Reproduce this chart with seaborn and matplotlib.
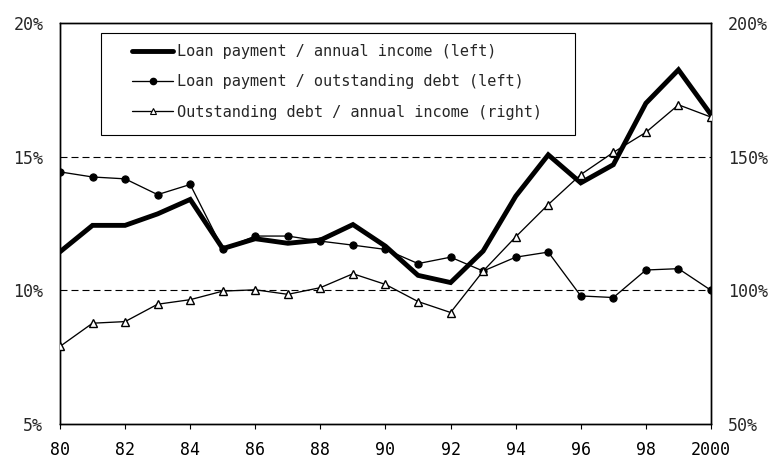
import matplotlib
matplotlib.use("Agg")
import matplotlib.pyplot as plt
import seaborn as sns
import pandas as pd
from matplotlib.lines import Line2D
from matplotlib.patches import Rectangle

years = list(range(1980, 2001))

# Loan payment / annual income (%, left axis)
pay_income = [11.44, 12.43, 12.43, 12.86, 13.40, 11.56, 11.93, 11.76, 11.88, 12.46,
              11.65, 10.56, 10.29, 11.47, 13.52, 15.07, 14.02, 14.70, 17.00, 18.25, 16.57]
# Loan payment / outstanding debt (%, left axis)
pay_debt = [14.43, 14.24, 14.17, 13.58, 13.96, 11.55, 12.03, 12.03, 11.84, 11.69,
            11.53, 11.00, 11.24, 10.72, 11.24, 11.43, 9.79, 9.73, 10.76, 10.81, 10.00]
# Outstanding debt / annual income (%, right axis)
debt_income = [79.0, 87.7, 88.3, 94.8, 96.5, 99.7, 100.2, 98.5, 101.0, 106.2,
               102.2, 95.8, 91.7, 107.2, 120.0, 132.1, 143.3, 151.6, 159.1, 169.4, 164.8]

x_ticks = list(range(1980, 2001, 2))
x_labels = ["80", "82", "84", "86", "88", "90", "92", "94", "96", "98", "2000"]
left_ticks = [5, 10, 15, 20]
right_ticks = [50, 100, 150, 200]

labels = ["Loan payment / annual income (left)",
          "Loan payment / outstanding debt (left)",
          "Outstanding debt / annual income (right)"]

df = pd.DataFrame({"year": years, "pi": pay_income, "pd": pay_debt, "di": debt_income})

sns.set_style("white")
plt.rcParams["font.family"] = ["DejaVu Sans Mono", "DejaVu Sans"]

fig = plt.figure(figsize=(7.72, 4.62), dpi=100)
ax = fig.add_axes([0.0777, 0.0823, 0.8433, 0.8679])
ax2 = ax.twinx()

THIN = 0.95
THICK = 3.5

sns.lineplot(data=df, x="year", y="pd", ax=ax, color="black", linewidth=THIN,
             marker="o", markersize=5.2, markeredgecolor="black", zorder=3)
sns.lineplot(data=df, x="year", y="pi", ax=ax, color="black", linewidth=THICK,
             zorder=4, solid_joinstyle="miter")
sns.lineplot(data=df, x="year", y="di", ax=ax2, color="black", linewidth=THIN,
             marker="^", markersize=6, markerfacecolor="white",
             markeredgecolor="black", markeredgewidth=1.0, zorder=5)

ax.set_xlim(1980, 2000)
ax.set_ylim(5, 20)
ax2.set_ylim(50, 200)

for v in (10, 15):
    ax.axhline(v, color="black", linewidth=0.8, linestyle=(0, (6.3, 3.6)), zorder=1)

ax.set_xticks(x_ticks)
ax.set_xticklabels(x_labels)
ax.set_yticks(left_ticks)
ax.set_yticklabels([f"{v}%" for v in left_ticks])
ax2.set_yticks(right_ticks)
ax2.set_yticklabels([f"{v}%" for v in right_ticks])

ax.tick_params(axis="x", direction="out", length=3.6, width=0.8, labelsize=12,
               pad=9, bottom=True, colors="black")
ax.tick_params(axis="y", length=0, labelsize=12, pad=12)
ax2.tick_params(axis="y", length=0, labelsize=12, pad=12)

ax.set_xlabel("")
ax.set_ylabel("")
ax2.set_ylabel("")

for a in (ax, ax2):
    for s in a.spines.values():
        s.set_color("black")
        s.set_linewidth(1.0)

# legend frame and entries
ax2.add_patch(Rectangle((0.063, 0.7207), 0.728, 0.2543, transform=ax2.transAxes,
                        facecolor="white", edgecolor="black", linewidth=0.8,
                        zorder=6))

handles = [
    Line2D([], [], color="black", linewidth=THICK),
    Line2D([], [], color="black", linewidth=THIN, marker="o", markersize=4.5),
    Line2D([], [], color="black", linewidth=THIN, marker="^", markersize=4.5,
           markerfacecolor="white", markeredgewidth=0.8),
]
if ax.get_legend():
    ax.get_legend().remove()
leg = ax2.legend(handles, labels, loc="upper left", bbox_to_anchor=(0.1106, 0.9476),
                 frameon=False, fontsize=11, handlelength=2.7, handletextpad=0.26,
                 labelspacing=1.0, borderpad=0, borderaxespad=0)
leg.set_zorder(7)

fig.savefig("out.png", dpi=100)
